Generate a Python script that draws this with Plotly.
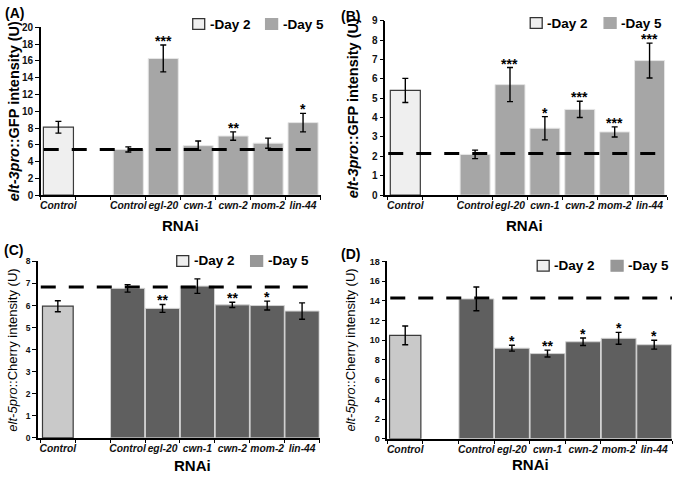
import plotly.graph_objects as go

# x tick labels (slot 1 is left empty in every panel)
labels = ["Control", "Control", "egl-20", "cwn-1", "cwn-2", "mom-2", "lin-44"]

# (A) elt-3pro::GFP
a_day2 = [8.1]
a_day2_err = [0.7]
a_day5 = [5.45, 16.3, 5.9, 7.05, 6.2, 8.65]
a_day5_err = [0.3, 1.6, 0.55, 0.5, 0.6, 1.1]
a_stars = ["", "***", "", "**", "", "*"]
a_ref = 5.45

# (B) elt-3pro::GFP
b_day2 = [5.4]
b_day2_err = [0.62]
b_day5 = [2.1, 5.7, 3.45, 4.42, 3.26, 6.94]
b_day5_err = [0.22, 0.88, 0.6, 0.42, 0.26, 0.9]
b_stars = ["", "***", "*", "***", "***", "***"]
b_ref = 2.15

# (C) elt-5pro::Cherry
c_day2 = [5.97]
c_day2_err = [0.25]
c_day5 = [6.78, 5.87, 6.88, 6.03, 6.0, 5.75]
c_day5_err = [0.17, 0.18, 0.33, 0.12, 0.2, 0.37]
c_stars = ["", "**", "", "**", "*", ""]
c_ref = 6.84

# (D) elt-5pro::Cherry
d_day2 = [10.5]
d_day2_err = [0.95]
d_day5 = [14.2, 9.2, 8.65, 9.85, 10.2, 9.55]
d_day5_err = [1.2, 0.3, 0.35, 0.38, 0.6, 0.45]
d_stars = ["", "*", "**", "*", "*", "*"]
d_ref = 14.3

FONT = "Liberation Sans, Arial, sans-serif"
W, H = 674, 478

def px(x):
    return x / W

def py(y):
    return 1 - y / H

panels = [
    dict(tag="(A)", day2=a_day2, e2=a_day2_err, day5=a_day5, e5=a_day5_err, stars=a_stars, ref=a_ref,
         xdom=[40, 320], ydom=[22, 194], xr=[-0.5, 7.5], yr=[0, 20], dt=2, tickfs=10,
         c2="#efefef", c5="#a6a6a6", l5="#e6e6e6", w2=0.86, w5=0.86,
         title="<b><i>elt-3pro</i>::GFP intensity (U)</b>", tfs=14.5, tx=13,
         lab=(2, 7), rnai=(180, 225), leg=(192, 265, 13), lc2="#efefef", lc5="#a6a6a6"),
    dict(tag="(B)", day2=b_day2, e2=b_day2_err, day5=b_day5, e5=b_day5_err, stars=b_stars, ref=b_ref,
         xdom=[385, 667], ydom=[15, 194], xr=[-0.57, 7.5], yr=[0, 9], dt=1, tickfs=10,
         c2="#efefef", c5="#a6a6a6", l5="#e6e6e6", w2=0.86, w5=0.86,
         title="<b><i>elt-3pro</i>::GFP intensity (U)</b>", tfs=14.5, tx=352,
         lab=(339, 10), rnai=(524, 225), leg=(530, 604, 12), lc2="#efefef", lc5="#a6a6a6"),
    dict(tag="(C)", day2=c_day2, e2=c_day2_err, day5=c_day5, e5=c_day5_err, stars=c_stars, ref=c_ref,
         xdom=[37, 319], ydom=[262, 443], xr=[-0.57, 7.5], yr=[0, 8], dt=1, tickfs=8.5,
         c2="#c9c9c9", c5="#5f5f5f", l5="#d2d2d2", w2=0.88, w5=0.98,
         title="<i>elt-5pro</i>::Cherry intensity (U)", tfs=13, tx=12,
         lab=(1, 250), rnai=(192, 471), leg=(176, 250, 256), lc2="#efefef", lc5="#979797"),
    dict(tag="(D)", day2=d_day2, e2=d_day2_err, day5=d_day5, e5=d_day5_err, stars=d_stars, ref=d_ref,
         xdom=[387, 672], ydom=[262, 444], xr=[-0.5, 7.5], yr=[0, 18], dt=2, tickfs=9,
         c2="#c9c9c9", c5="#5f5f5f", l5="#d2d2d2", w2=0.88, w5=0.98,
         title="<i>elt-5pro</i>::Cherry intensity (U)", tfs=13, tx=350,
         lab=(339, 254), rnai=(530, 470), leg=(537, 611, 261), lc2="#efefef", lc5="#979797"),
]

fig = go.Figure()
shapes = []
annotations = []
layout = {}

for i, p in enumerate(panels):
    n = "" if i == 0 else str(i + 1)
    xa, ya = "x" + n, "y" + n
    x2 = [0]
    x5 = [k + 2 for k in range(len(p["day5"]))]

    fig.add_trace(go.Bar(
        x=x2, y=p["day2"], width=p["w2"], xaxis=xa, yaxis=ya,
        marker=dict(color=p["c2"], line=dict(color="#3a3a3a", width=1.2)),
        error_y=dict(type="data", array=p["e2"], color="black", thickness=1.4, width=3),
        showlegend=False, hoverinfo="skip",
    ))
    fig.add_trace(go.Bar(
        x=x5, y=p["day5"], width=p["w5"], xaxis=xa, yaxis=ya,
        marker=dict(color=p["c5"], line=dict(color=p["l5"], width=1)),
        error_y=dict(type="data", array=p["e5"], color="black", thickness=1.4, width=3),
        showlegend=False, hoverinfo="skip",
    ))

    layout["xaxis" + n] = dict(
        domain=[px(p["xdom"][0]), px(p["xdom"][1])], anchor=ya, range=p["xr"],
        tickmode="array", tickvals=x2 + x5, tickangle=0,
        ticktext=["<b><i>%s</i></b>" % t for t in labels],
        ticks="", tickfont=dict(size=10.3, color="#111", family=FONT),
        showline=True, linecolor="black", linewidth=1.5, showgrid=False, zeroline=False,
        minor=dict(ticks="outside", tickmode="linear", tick0=-0.5, dtick=1, ticklen=3,
                   tickcolor="black", tickwidth=1, showgrid=False),
    )
    layout["yaxis" + n] = dict(
        domain=[py(p["ydom"][1]), py(p["ydom"][0])], anchor=xa, range=p["yr"], dtick=p["dt"],
        ticks="outside", ticklen=4, tickcolor="black", tickwidth=1.2,
        tickfont=dict(size=p["tickfs"], color="#111", family=FONT),
        tickprefix="<b>", ticksuffix="</b>",
        showline=True, linecolor="black", linewidth=1.5, showgrid=False, zeroline=False,
    )

    # dashed reference line (Day 5 control)
    shapes.append(dict(type="line", xref=xa + " domain", yref=ya, x0=0.01, x1=1,
                       y0=p["ref"], y1=p["ref"], line=dict(color="black", width=3, dash="15px,13px")))

    # significance stars
    for k, s in enumerate(p["stars"]):
        if s:
            annotations.append(dict(x=x5[k], y=p["day5"][k] + p["e5"][k], xref=xa, yref=ya,
                                    text="<b>%s</b>" % s, showarrow=False, yanchor="bottom",
                                    yshift=-6, font=dict(size=14, color="black", family=FONT)))

    # panel tag
    annotations.append(dict(x=px(p["lab"][0]), y=py(p["lab"][1]), xref="paper", yref="paper",
                            text="<b>%s</b>" % p["tag"], showarrow=False, xanchor="left",
                            yanchor="middle", font=dict(size=14, color="black", family=FONT)))
    # y title
    cy = (p["ydom"][0] + p["ydom"][1]) / 2
    annotations.append(dict(x=px(p["tx"]), y=py(cy), xref="paper", yref="paper",
                            text=p["title"], textangle=-90, showarrow=False,
                            xanchor="center", yanchor="middle",
                            font=dict(size=p["tfs"], color="black", family=FONT)))
    # x title
    annotations.append(dict(x=px(p["rnai"][0]), y=py(p["rnai"][1]), xref="paper", yref="paper",
                            text="<b>RNAi</b>", showarrow=False, xanchor="center", yanchor="middle",
                            font=dict(size=15, color="black", family=FONT)))

    # legend boxes and texts
    lx2, lx5, ly = p["leg"]
    for bx, col, brd, txt in [(lx2, p["lc2"], "#333", "-Day 2"), (lx5, p["lc5"], p["lc5"], "-Day 5")]:
        shapes.append(dict(type="rect", xref="paper", yref="paper",
                           x0=px(bx), x1=px(bx + 12), y0=py(ly + 11), y1=py(ly),
                           fillcolor=col, line=dict(color=brd, width=1.3)))
        annotations.append(dict(x=px(bx + 15), y=py(ly + 5.5), xref="paper", yref="paper",
                                text="<b>%s</b>" % txt, showarrow=False, xanchor="left",
                                yanchor="middle", font=dict(size=13.5, color="black", family=FONT)))

fig.update_layout(
    width=W, height=H,
    margin=dict(l=0, r=0, t=0, b=0),
    paper_bgcolor="white", plot_bgcolor="white",
    font=dict(family=FONT, color="black"),
    barmode="overlay", showlegend=False,
    shapes=shapes, annotations=annotations,
    **layout,
)

fig.write_html("out.html", config={"displayModeBar": False},
               post_script="document.body.style.margin='0';document.body.style.overflow='hidden';")
